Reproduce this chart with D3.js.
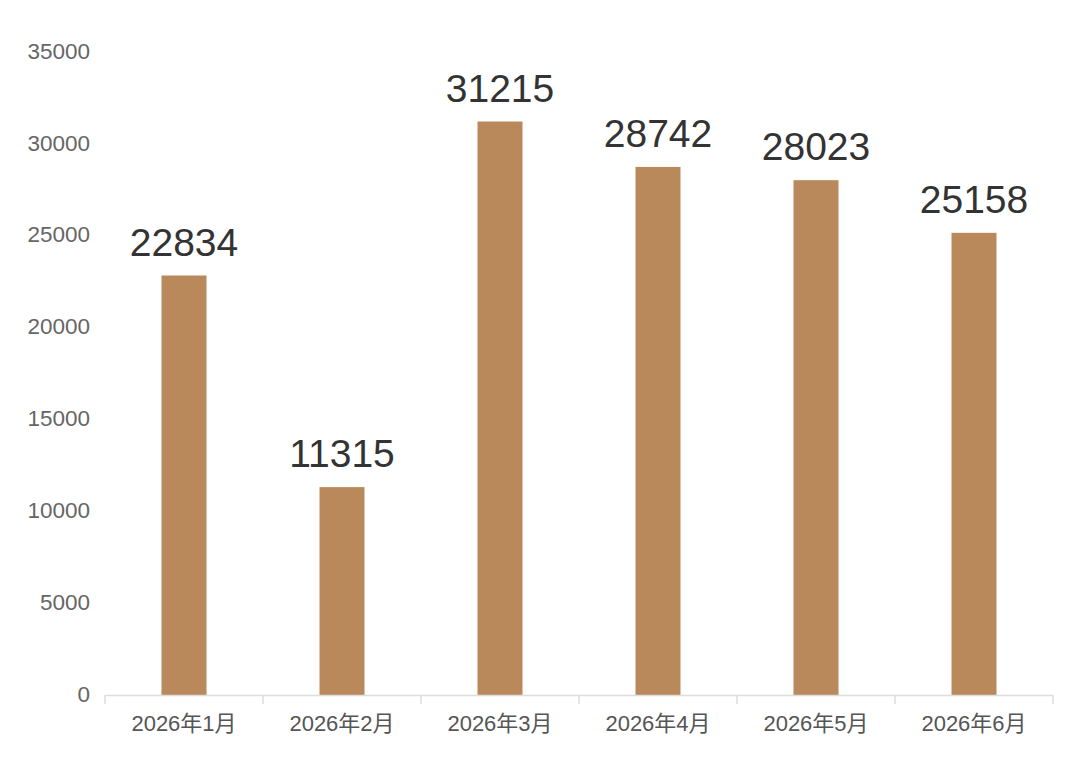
<!DOCTYPE html>
<html><head><meta charset="utf-8">
<script src="https://cdn.jsdelivr.net/npm/d3@7"></script>
<style>
html,body{margin:0;padding:0;background:#fff;}
text{font-family:"Liberation Sans","Noto Sans CJK SC",sans-serif;}
</style></head>
<body>
<svg id="c" width="1080" height="762"></svg>
<script>
const categories = ["2026年1月","2026年2月","2026年3月","2026年4月","2026年5月","2026年6月"];
const values = [22834, 11315, 31215, 28742, 28023, 25158];
const yTicks = [0, 5000, 10000, 15000, 20000, 25000, 30000, 35000];

const svg = d3.select("#c");
const m = {left:105, right:1053, top:52, bottom:695};
const x = d3.scaleBand().domain(categories).range([m.left, m.right]).paddingInner(0).paddingOuter(0);
const y = d3.scaleLinear().domain([0, 35000]).range([m.bottom, m.top]);
const barW = 45;

// y labels
svg.append("g").selectAll("text").data(yTicks).join("text")
  .attr("x", 90).attr("y", d => y(d)).attr("dy", "0.3em")
  .attr("text-anchor", "end").attr("font-size", 22.5).attr("fill", "#666")
  .text(d => d);

// bars
svg.append("g").selectAll("rect").data(values).join("rect")
  .attr("x", (d,i) => x(categories[i]) + x.bandwidth()/2 - barW/2)
  .attr("y", d => y(d))
  .attr("width", barW)
  .attr("height", d => y(0) - y(d))
  .attr("fill", "#B9885B");

// value labels
svg.append("g").selectAll("text").data(values).join("text")
  .attr("x", (d,i) => x(categories[i]) + x.bandwidth()/2)
  .attr("y", d => y(d) - 20)
  .attr("text-anchor", "middle").attr("font-size", 39).attr("fill", "#333")
  .text(d => d);

// x axis
const xg = svg.append("g").attr("transform", `translate(0,${m.bottom})`)
  .call(d3.axisBottom(x).tickSize(0).tickSizeOuter(0));
xg.select(".domain").attr("stroke", "#ddd").attr("stroke-width", 1.5);
xg.selectAll(".tick text").attr("font-size", 22).attr("fill", "#555")
  .attr("font-family", "'Liberation Sans','Noto Sans CJK SC',sans-serif").attr("dy", "1.5em");
// boundary ticks
const bounds = categories.map(c => x(c)).concat([m.right]);
svg.append("g").selectAll("line").data(bounds).join("line")
  .attr("x1", d => d).attr("x2", d => d)
  .attr("y1", m.bottom).attr("y2", m.bottom + 9)
  .attr("stroke", "#ddd").attr("stroke-width", 1.5);
</script>
</body></html>
